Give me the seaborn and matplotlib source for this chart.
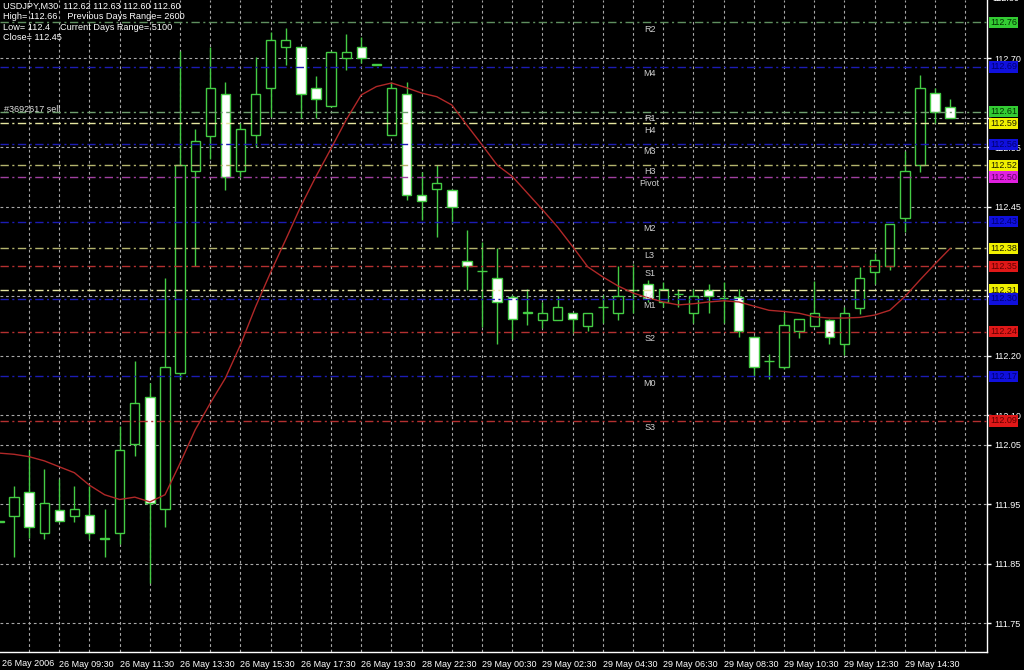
import matplotlib as mpl
mpl.use('Agg')
import numpy as np
import pandas as pd
import seaborn as sns
import matplotlib.pyplot as plt
import matplotlib.transforms as mtrans

sns.set_theme(style='dark', rc={'axes.facecolor': 'black', 'figure.facecolor': 'black',
                                'axes.edgecolor': 'white', 'xtick.color': 'white',
                                'ytick.color': 'white', 'text.color': 'white'})
plt.rcParams['font.family'] = ['Liberation Sans', 'DejaVu Sans']

# USDJPY M30 candles (26 May 07:30 .. 29 May 16:00)
opens = [111.921, 111.931, 111.971, 111.901, 111.940, 111.931, 111.932, 111.892, 111.901, 112.051,
         112.131, 111.942, 112.171, 112.510, 112.569, 112.640, 112.510, 112.570, 112.649, 112.719,
         112.719, 112.649, 112.619, 112.700, 112.719, 112.689, 112.571, 112.640, 112.470, 112.480,
         112.479, 112.359, 112.342, 112.330, 112.299, 112.272, 112.260, 112.260, 112.271, 112.250,
         112.281, 112.271, 112.310, 112.321, 112.290, 112.303, 112.271, 112.310, 112.296, 112.299,
         112.231, 112.191, 112.181, 112.242, 112.250, 112.260, 112.219, 112.280, 112.341, 112.350,
         112.431, 112.520, 112.641, 112.618]
highs = [111.930, 111.981, 112.041, 112.010, 111.992, 111.981, 111.981, 111.942, 112.082, 112.190,
         112.153, 112.330, 112.711, 112.580, 112.719, 112.660, 112.591, 112.701, 112.743, 112.750,
         112.720, 112.670, 112.712, 112.740, 112.735, 112.690, 112.659, 112.660, 112.509, 112.520,
         112.480, 112.411, 112.391, 112.380, 112.302, 112.311, 112.290, 112.300, 112.272, 112.271,
         112.302, 112.350, 112.354, 112.327, 112.324, 112.311, 112.311, 112.321, 112.324, 112.311,
         112.232, 112.203, 112.271, 112.261, 112.326, 112.261, 112.281, 112.349, 112.373, 112.421,
         112.543, 112.671, 112.649, 112.631]
lows = [111.912, 111.861, 111.893, 111.891, 111.920, 111.921, 111.891, 111.861, 111.883, 112.031,
        111.817, 111.911, 112.160, 112.350, 112.530, 112.479, 112.500, 112.550, 112.601, 112.688,
        112.599, 112.599, 112.617, 112.680, 112.692, 112.688, 112.570, 112.461, 112.428, 112.400,
        112.422, 112.310, 112.248, 112.220, 112.227, 112.251, 112.246, 112.260, 112.237, 112.242,
        112.255, 112.260, 112.271, 112.290, 112.282, 112.281, 112.255, 112.271, 112.254, 112.231,
        112.166, 112.160, 112.178, 112.229, 112.249, 112.220, 112.201, 112.270, 112.321, 112.343,
        112.408, 112.509, 112.591, 112.600]
closes = [111.921, 111.962, 111.911, 111.952, 111.922, 111.942, 111.901, 111.892, 112.041, 112.121,
          111.952, 112.181, 112.521, 112.561, 112.649, 112.500, 112.580, 112.639, 112.730, 112.730,
          112.640, 112.631, 112.710, 112.710, 112.700, 112.689, 112.649, 112.470, 112.460, 112.490,
          112.450, 112.351, 112.342, 112.290, 112.261, 112.272, 112.271, 112.281, 112.261, 112.271,
          112.281, 112.300, 112.310, 112.296, 112.311, 112.303, 112.300, 112.300, 112.296, 112.242,
          112.181, 112.191, 112.251, 112.261, 112.271, 112.231, 112.271, 112.330, 112.361, 112.421,
          112.510, 112.649, 112.610, 112.600]
ma = [112.036, 112.034, 112.030, 112.023, 112.013, 112.003, 111.982, 111.966, 111.958, 111.962,
      111.954, 111.966, 112.019, 112.075, 112.120, 112.162, 112.218, 112.282, 112.340, 112.395,
      112.451, 112.501, 112.548, 112.596, 112.638, 112.652, 112.658, 112.650, 112.641, 112.635,
      112.621, 112.587, 112.554, 112.520, 112.501, 112.473, 112.445, 112.416, 112.383, 112.349,
      112.332, 112.317, 112.305, 112.297, 112.290, 112.285, 112.287, 112.290, 112.292, 112.290,
      112.283, 112.276, 112.274, 112.271, 112.265, 112.263, 112.263, 112.264, 112.268, 112.276,
      112.299, 112.327, 112.354, 112.380]

tick_bars = [4, 8, 12, 16, 20, 24, 28, 32, 36, 40, 44, 48, 52, 56, 60]
tick_labels = ['26 May 09:30', '26 May 11:30', '26 May 13:30', '26 May 15:30', '26 May 17:30',
               '26 May 19:30', '28 May 22:30', '29 May 00:30', '29 May 02:30', '29 May 04:30',
               '29 May 06:30', '29 May 08:30', '29 May 10:30', '29 May 12:30', '29 May 14:30']
price_ticks = [112.70, 112.60, 112.55, 112.45, 112.30, 112.20, 112.10, 112.05, 111.95, 111.85, 111.75]
# 112.60 and 112.30 sit under the level tags in the original
price_labels = ['112.70', '', '112.55', '112.45', '', '112.20', '112.10', '112.05', '111.95',
                '111.85', '111.75']

# pivot levels
level_names = ['R2', 'M4', 'R1', 'H4', 'M3', 'H3', 'Pivot', 'M2', 'L3', 'S1', 'L4', 'M1', 'S2', 'M0', 'S3']
level_values = [112.76, 112.685, 112.61, 112.59, 112.555, 112.52, 112.50, 112.425, 112.38, 112.35,
                112.31, 112.295, 112.24, 112.165, 112.09]
level_tags = ['112.76', '112.69', '112.61', '112.59', '112.56', '112.52', '112.50', '112.43', '112.38',
              '112.35', '112.31', '112.30', '112.24', '112.17', '112.09']
line_colors = ['#5f8f5f', '#1c1cb4', '#6f9f6f', '#e6e6a0', '#1c1cb4', '#b4b46e', '#a040a0', '#1c1cb4',
               '#b4b46e', '#b43030', '#e6e6a0', '#1c1cb4', '#b43030', '#1c1cb4', '#b43030']
tag_colors = ['#33cc33', '#1010dd', '#33cc33', '#f0f000', '#1010dd', '#f0f000', '#e020e0', '#1010dd',
              '#f0f000', '#e01818', '#f0f000', '#1010dd', '#e01818', '#1010dd', '#e01818']
tag_text = ['#003000', '#000070', '#003000', '#202000', '#000070', '#202000', '#600060', '#000070',
            '#202000', '#600000', '#202000', '#000070', '#600000', '#000070', '#600000']

df = pd.DataFrame({'bar': np.arange(len(opens)), 'open': opens, 'high': highs,
                   'low': lows, 'close': closes, 'ma': ma})

fig = plt.figure(figsize=(10.24, 6.7), dpi=100)
ax = fig.add_axes([0, 18 / 670, 987 / 1024, 652 / 670])
right_tf = mtrans.blended_transform_factory(ax.transAxes, ax.transData)

green = '#44cc44'
bear = df['close'] < df['open']
body_lo = np.minimum(df['open'], df['close'])
body_h = np.maximum((df['close'] - df['open']).abs(), 0.0005)

ax.vlines(df['bar'], df['low'], df['high'], color=green, lw=1, zorder=2)
ax.bar(df['bar'], body_h, bottom=body_lo, width=0.62,
       color=np.where(bear, 'white', 'black'), edgecolor=green, linewidth=1, zorder=3)

for name, val, lc, tc, tt, tag in zip(level_names, level_values, line_colors, tag_colors,
                                        tag_text, level_tags):
    ax.axhline(val, color=lc, lw=1, ls=(0, (6, 2.5, 1.5, 2.5)), zorder=4)
    ax.text(43.1, val - 0.004, name, color='#d0d0d0', fontsize=6.5, ha='center', va='top', zorder=6)
    ax.text(1.003, val, tag, color=tt, fontsize=6.5, ha='left', va='center', zorder=7,
            transform=right_tf, clip_on=False,
            bbox=dict(boxstyle='square,pad=0.12', fc=tc, ec='none'))

sns.lineplot(data=df, x='bar', y='ma', color='#b02828', lw=1, ax=ax, zorder=5)

ax.set_xlim(0.073, 65.44)
ax.set_ylim(111.7017, 112.7975)

ax.set_xticks(np.arange(2, 65, 2), minor=True)
ax.set_xticks(tick_bars)
ax.set_xticklabels(tick_labels, ha='left', fontsize=6.5)
ax.tick_params(axis='x', which='major', length=4, width=1, pad=2, color='white')
ax.tick_params(axis='x', which='minor', length=0)
ax.yaxis.tick_right()
ax.set_yticks(price_ticks)
ax.set_yticklabels(price_labels, fontsize=6.5)
ax.tick_params(axis='y', length=3, width=1, pad=2, color='white')
ax.set_axisbelow(True)
ax.grid(True, which='both', axis='x', color='#a8a8a8', lw=0.8, ls=(0, (2.5, 2.5)))
ax.grid(True, which='major', axis='y', color='#a8a8a8', lw=0.8, ls=(0, (2.5, 2.5)))
ax.set_xlabel('')
ax.set_ylabel('')
for side in ['left', 'top']:
    ax.spines[side].set_visible(False)
for side in ['bottom', 'right']:
    ax.spines[side].set_color('white')
    ax.spines[side].set_linewidth(1)

# partly visible top price label
ax.text(1.0 + 5 / 987, 112.80, '112.80', color='white', fontsize=6.5, ha='left', va='center',
        transform=right_tf, clip_on=False)

fig.text(2 / 1024, 7 / 670, '26 May 2006', color='white', fontsize=6.5, ha='left', va='center')
ax.text(0.004, 112.613, '#3692617 sell', color='#e0e0e0', fontsize=6.5, ha='left', va='center',
        transform=right_tf)

header = ['USDJPY,M30  112.62 112.63 112.60 112.60',
          'High= 112.66    Previous Days Range= 2600',
          'Low= 112.4    Current Days Range= 5100',
          'Close= 112.45']
for i, line in enumerate(header):
    fig.text(3 / 1024, 1 - (6 + 10.5 * i) / 670, line, color='white', fontsize=6.6,
             ha='left', va='center')

fig.savefig('out.png', dpi=100, facecolor='black')
